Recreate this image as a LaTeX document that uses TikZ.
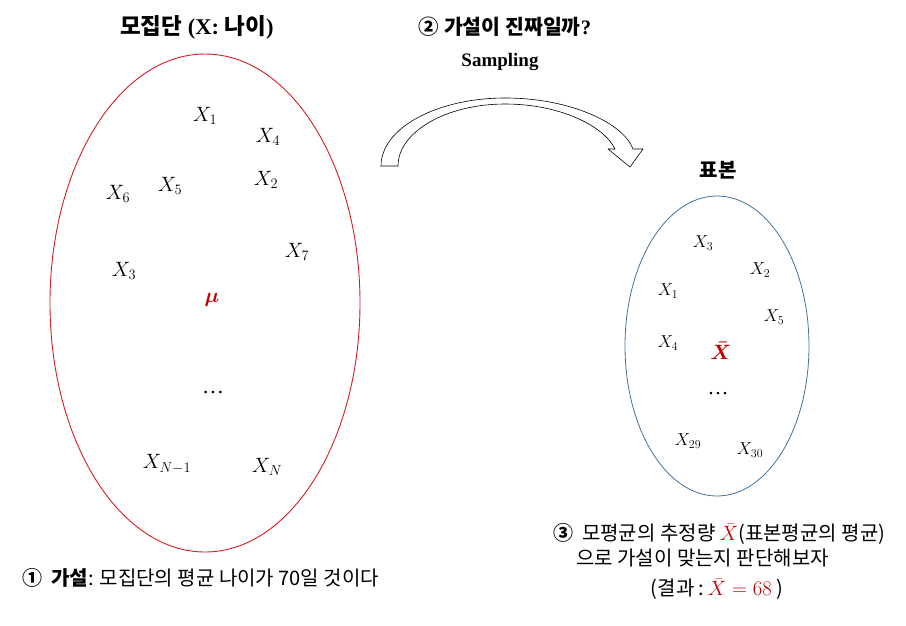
\documentclass[tikz,border=0pt]{standalone}
\usepackage[no-math]{fontspec}
\usepackage{bm}
\setmainfont{Liberation Serif}
\newfontfamily\kor{Noto Sans CJK KR}
\definecolor{meanred}{RGB}{192,0,0}
\definecolor{popline}{RGB}{212,28,36}
\definecolor{sampline}{RGB}{65,113,156}
\tikzset{
	elem/.style={font=\fontsize{20}{23}\selectfont, inner sep=0pt},
	selem/.style={font=\fontsize{18}{21}\selectfont, inner sep=0pt},
	meanlbl/.style={font=\fontsize{22}{25}\selectfont, text=meanred, inner sep=0pt},
	headline/.style={font=\fontsize{20}{24}\selectfont\bfseries, inner sep=0pt},
	note/.style={font=\fontsize{20}{24}\selectfont\kor, inner sep=0pt}
}
\begin{document}
\begin{tikzpicture}[x=1pt, y=-1pt, line join=round, line cap=round]
	\useasboundingbox (0,0) rectangle (906,625);
	% population
	\draw[popline, line width=0.9pt] (205,303) ellipse [x radius=155, y radius=249];
	\node[headline, font=\fontsize{22.5}{26}\selectfont\bfseries] (poptitle) at (197,27) {{\kor 모집단} (X: {\kor 나이})};
	\foreach \n/\px/\py/\s in {1/205/116/1, 4/268/137/4, 2/266/180/2, 5/170/186/5, 6/118/194/6, 7/297/252/7, 3/124/271/3, m/167/464/{N-1}, n/267/467/N}
		\node[elem] (pop\n) at (\px,\py) {$X_{\s}$};
	\node[meanlbl] (popmean) at (212,300) {$\bm{\mu}$};
	\node[elem, font=\fontsize{22}{24}\selectfont] (popdots) at (213,393) {…};
	% sample
	\draw[sampline, line width=0.8pt] (717,346) ellipse [x radius=92, y radius=150];
	\node[headline] (samptitle) at (718,170) {\kor 표본};
	\foreach \n/\px/\py/\s in {3/703/243/3, 2/760/270/2, 1/668/291/1, 5/774/317/5, 4/668/343/4, a/688/441/29, b/750/450/30}
		\node[selem] (smp\n) at (\px,\py) {$X_{\s}$};
	\node[meanlbl] (smpmean) at (721,351) {$\bm{\bar{X}}$};
	\node[selem, font=\fontsize{21}{23}\selectfont] (smpdots) at (718,394) {…};
	% sampling arrow
	\node[headline, font=\fontsize{20.5}{24}\selectfont\kor\bfseries] (question) at (505,27) {② 가설이 진짜일까{\rmfamily\bfseries ?}};
	\node[headline, font=\fontsize{19}{22}\selectfont\bfseries] (sampling) at (500,62) {Sampling};
	\draw[fill=white, line width=0.6pt] (381,166) .. controls (381,128) and (437,98) .. (505,98)
		.. controls (572,98) and (624,124) .. (633,149) -- (643,149) -- (630,167) -- (608,149) -- (615,149)
		.. controls (604,126) and (560,104) .. (505,104)
		.. controls (446,104) and (398,132) .. (398,166) -- cycle;
	% notes
	\node[note, anchor=west] (hyp) at (22,578) {{\bfseries ①\ \ 가설}: 모집단의 평균 나이가 70일 것이다};
	\node[note, anchor=west] (est1) at (553,534) {{\bfseries ③}\ \ 모평균의 추정량 {\color{meanred}$\bar{X}$}(표본평균의 평균)};
	\node[note, anchor=west] (est2) at (576,558) {으로 가설이 맞는지 판단해보자};
	\node[note] (est3) at (717,589) {(결과 :\,{\color{meanred}$\bar{X}=68$} )};
\end{tikzpicture}
\end{document}
